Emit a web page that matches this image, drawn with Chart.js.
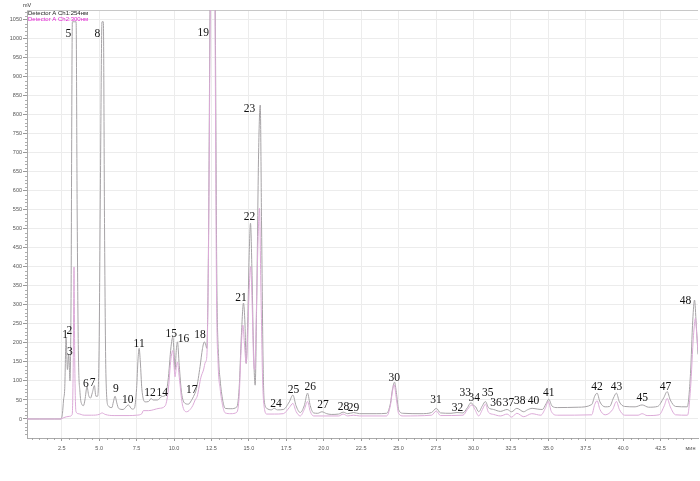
<!DOCTYPE html>
<html>
<head>
<meta charset="utf-8">
<script src="https://cdn.jsdelivr.net/npm/chart.js@4/dist/chart.umd.min.js"></script>
<style>
html,body{margin:0;padding:0;background:#fff;}
#wrap{width:700px;height:481px;}
</style>
</head>
<body>
<div id="wrap"><canvas id="c" width="700" height="481"></canvas></div>
<script>
// ---- data ----
const seriesNames = ['Detector A Ch1:254нм', 'Detector A Ch2:300нм'];
const yUnit = 'mV';
const xUnit = 'мин';
const xTickValues = [2.5, 5.0, 7.5, 10.0, 12.5, 15.0, 17.5, 20.0, 22.5, 25.0, 27.5, 30.0, 32.5, 35.0, 37.5, 40.0, 42.5];
const yTickValues = [0,50,100,150,200,250,300,350,400,450,500,550,600,650,700,750,800,850,900,950,1000,1050];

const ch1Time = [0.18,1.0,2.0,2.45,2.55,2.62,2.70,2.79,2.88,2.97,3.05,3.12,3.21,3.33,3.46,3.53,3.61,3.72,3.85,3.95,4.05,4.19,4.30,4.42,4.55,4.68,4.78,4.90,5.0,5.08,5.19,5.28,5.36,5.45,5.6,5.85,5.95,6.06,6.18,6.3,6.6,6.95,7.2,7.35,7.5,7.6,7.67,7.75,7.85,8.07,8.3,8.47,8.6,8.9,9.18,9.4,9.6,9.8,9.92,10.0,10.07,10.15,10.23,10.35,10.5,10.74,10.96,11.15,11.3,11.5,11.74,11.9,12.03,12.12,12.19,12.3,12.42,12.58,12.74,12.86,12.98,13.08,13.25,13.42,13.8,14.2,14.35,14.5,14.64,14.74,14.82,14.92,15.02,15.11,15.2,15.3,15.42,15.52,15.65,15.76,15.85,15.95,16.02,16.2,16.5,16.7,16.9,17.3,17.7,17.94,18.15,18.43,18.7,18.92,19.1,19.32,19.6,19.88,20.2,20.5,21.0,21.3,21.6,22.0,22.4,23.5,24.2,24.45,24.6,24.73,24.85,25.0,25.3,26.5,27.2,27.52,27.8,28.5,28.9,29.3,29.6,29.84,30.0,30.15,30.35,30.6,30.8,31.0,31.35,31.8,32.25,32.55,32.9,33.36,33.6,33.92,34.3,34.6,34.85,35.03,35.25,35.6,37.0,37.9,38.1,38.26,38.45,38.8,39.1,39.35,39.55,39.75,40.1,40.8,41.27,41.7,42.3,42.7,42.94,43.15,43.5,44.28,44.5,44.65,44.77,44.88,45.0];
const ch1Value = [0,0,0,0,15,50,80,213,130,170,100,300,1045,1045,1045,550,181,70,38,35,50,85,62,55,70,88,60,60,200,600,1045,1045,500,120,35,30,45,60,42,28,25,37,26,28,80,160,186,150,80,45,46,54,50,50,59,62,100,190,216,175,130,180,203,140,70,41,39,48,59,80,138,185,203,195,186,450,1150,1400,1150,366,160,103,50,28,27,32,80,220,305,250,146,250,430,515,400,200,89,300,700,826,500,150,50,28,24,28,24,25,45,63,35,17,35,68,35,16,15,19,14,12,13,18,14,17,14,14,15,40,80,97,70,25,15,14,17,28,16,15,17,16,30,43,36,32,19,35,46,30,25,20,25,19,28,19,24,28,26,25,40,52,34,30,31,38,60,68,45,32,33,55,68,45,33,32,37,31,33,55,72,50,33,32,120,260,313,250,170];

const ch2Time = [0.18,2.45,2.6,3.0,3.2,3.27,3.32,3.37,3.45,3.6,4.0,4.5,5.0,5.2,5.4,6.0,7.0,7.5,7.85,7.95,8.3,9.0,9.4,9.6,9.8,9.92,10.0,10.07,10.15,10.23,10.35,10.55,10.85,11.0,11.25,11.41,11.55,11.8,11.97,12.1,12.19,12.3,12.44,12.58,12.72,12.84,12.95,13.08,13.25,13.42,13.8,14.2,14.35,14.48,14.6,14.7,14.82,14.92,15.03,15.12,15.22,15.32,15.4,15.5,15.62,15.71,15.8,15.92,16.05,16.2,16.7,17.3,17.7,17.94,18.15,18.43,18.7,18.92,19.1,19.32,20.0,21.0,21.3,21.6,22.0,22.4,24.2,24.45,24.6,24.71,24.83,25.0,25.3,27.2,27.52,27.8,29.3,29.6,29.9,30.1,30.35,30.6,30.8,31.0,31.35,31.8,32.25,32.55,32.9,33.36,33.9,34.5,34.8,35.0,35.2,35.6,37.9,38.1,38.26,38.45,38.8,39.3,39.55,39.75,40.1,41.0,41.27,41.6,42.4,42.75,42.94,43.15,43.5,44.3,44.5,44.7,44.83,44.92,45.0];
const ch2Value = [0,0,3,7,12,150,400,150,20,14,10,10,12,16,12,9,9,10,14,22,22,28,34,70,160,180,140,111,135,150,110,40,19,22,35,50,60,110,129,150,164,420,1150,1400,1150,330,140,80,35,16,14,18,60,180,247,200,147,220,350,401,300,150,129,280,480,554,350,100,25,13,13,14,30,41,20,8,25,46,20,8,8,8,13,8,10,8,8,35,75,90,60,15,8,10,21,9,10,25,37,25,8,25,39,18,12,8,13,5,15,6,14,10,28,46,20,10,11,38,48,25,11,25,46,25,10,10,14,9,11,35,54,32,11,10,80,220,265,220,180];

const peakNames = ['1','2','3','5','6','7','8','9','10','11','12','14','15','16','17','18','19','21','22','23','24','25','26','27','28','29','30','31','32','33','34','35','36','37','38','40','41','42','43','45','47','48'];
const peakLabelTime = [2.72,3.01,3.05,2.94,4.12,4.57,4.88,6.11,6.91,7.67,8.40,9.22,9.81,10.63,11.19,11.74,11.95,14.47,15.04,15.04,16.82,17.98,19.10,19.95,21.32,21.99,24.71,27.50,28.94,29.46,30.06,30.95,31.51,32.35,33.09,34.02,35.03,38.26,39.55,41.27,42.83,44.16];
const peakLabelLevel = [221,232,177,1012,91,96,1012,78,50,197,68,68,223,210,76,221,1016,318,532,815,39,76,85,37,32,28,109,50,30,69,54,68,43,43,47,47,69,85,85,54,85,311];

const seriesColors = ['#a6a3a6', '#dcaad8'];
const gridColor = '#ececec';

// ---- plugins ----
const decorPlugin = {
  id: 'decor',
  beforeDatasetsDraw(chart) {
    const ctx = chart.ctx, a = chart.chartArea;
    const xs = chart.scales.x, ys = chart.scales.y;
    ctx.save();
    ctx.strokeStyle = '#999';
    ctx.lineWidth = 0.8;
    ctx.beginPath();
    for (let v = -50; v <= 1070; v += 10) {
      if (v % 50 === 0) continue;
      const y = Math.round(ys.getPixelForValue(v)) + 0.5;
      ctx.moveTo(a.left - 2, y); ctx.lineTo(a.left, y);
    }
    for (let i = 1; i <= 89; i++) {
      const t = i * 0.5;
      if (t % 2.5 === 0) continue;
      const x = Math.round(xs.getPixelForValue(t)) + 0.5;
      ctx.moveTo(x, a.bottom); ctx.lineTo(x, a.bottom + 2);
    }
    ctx.stroke();
    ctx.strokeStyle = '#c8c8c8';
    ctx.lineWidth = 1;
    ctx.beginPath();
    ctx.moveTo(a.left, a.top + 0.5); ctx.lineTo(a.right, a.top + 0.5);
    ctx.stroke();
    ctx.restore();
  },
  afterDatasetsDraw(chart) {
    const ctx = chart.ctx, a = chart.chartArea;
    const xs = chart.scales.x, ys = chart.scales.y;
    ctx.save();
    ctx.fillStyle = '#111';
    ctx.font = '11.5px "Liberation Serif", "DejaVu Serif", serif';
    ctx.textAlign = 'center';
    ctx.textBaseline = 'middle';
    peakNames.forEach((n, i) => {
      ctx.fillText(n, xs.getPixelForValue(peakLabelTime[i]), ys.getPixelForValue(peakLabelLevel[i]));
    });
    ctx.textAlign = 'left';
    ctx.font = '5.5px "Liberation Sans", Arial, sans-serif';
    ctx.fillStyle = '#333';
    ctx.fillText(yUnit, a.left - 4, a.top - 5);
    ctx.font = '6px "Liberation Sans", Arial, sans-serif';
    ctx.fillStyle = '#222';
    ctx.fillText(seriesNames[0], a.left + 1, a.top + 3);
    ctx.fillStyle = '#e020d0';
    ctx.fillText(seriesNames[1], a.left + 1, a.top + 9);
    ctx.restore();
  }
};

const mk = (ts, vs) => ts.map((t, i) => ({ x: t, y: vs[i] }));

new Chart(document.getElementById('c'), {
  type: 'line',
  data: {
    datasets: [
      { label: seriesNames[1], data: mk(ch2Time, ch2Value), borderColor: seriesColors[1], borderWidth: 1, pointRadius: 0, tension: 0.3, cubicInterpolationMode: 'monotone', fill: false },
      { label: seriesNames[0], data: mk(ch1Time, ch1Value), borderColor: seriesColors[0], borderWidth: 1, pointRadius: 0, tension: 0.3, cubicInterpolationMode: 'monotone', fill: false }
    ]
  },
  options: {
    responsive: false,
    animation: false,
    events: [],
    layout: { padding: { top: 10, right: 2, left: 0, bottom: 0 } },
    plugins: { legend: { display: false }, tooltip: { enabled: false } },
    scales: {
      x: {
        type: 'linear', min: 0.18, max: 45.0,
        afterBuildTicks(s) { s.ticks = xTickValues.concat([44.5]).map(v => ({ value: v })); },
        afterFit(s) { s.height = 43; },
        ticks: {
          autoSkip: false, maxRotation: 0, padding: 4, color: '#555',
          font: { size: 5.5, family: '"Liberation Sans", Arial, sans-serif' },
          callback: (v) => v > 44 ? xUnit : Number(v).toFixed(1)
        },
        grid: {
          color: (c) => (c.tick && c.tick.value > 44) ? 'rgba(0,0,0,0)' : gridColor,
          tickColor: (c) => (c.tick && c.tick.value > 44) ? 'rgba(0,0,0,0)' : '#999',
          tickLength: 3
        },
        border: { color: '#aaa' }
      },
      y: {
        type: 'linear', min: -50, max: 1076,
        afterBuildTicks(s) { s.ticks = yTickValues.map(v => ({ value: v })); },
        afterFit(s) { s.width = 27; },
        ticks: {
          padding: 1, color: '#555',
          font: { size: 5.5, family: '"Liberation Sans", Arial, sans-serif' },
          callback: (v) => String(v)
        },
        grid: { color: gridColor, tickColor: '#999', tickLength: 4 },
        border: { color: '#aaa' }
      }
    }
  },
  plugins: [decorPlugin]
});
</script>
</body>
</html>
